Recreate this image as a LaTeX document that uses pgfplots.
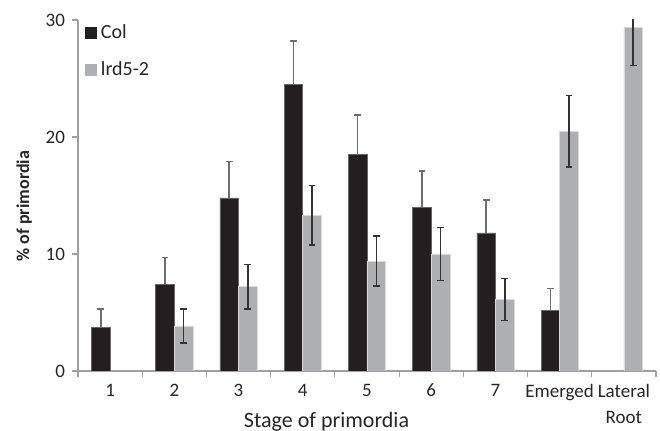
\documentclass[border=0pt]{standalone}
\usepackage{fontspec}
\setmainfont{Carlito}
\usepackage{pgfplots}
\pgfplotsset{compat=1.18}
\definecolor{colbar}{HTML}{231F20}
\definecolor{lrdbar}{HTML}{AEAFB1}
\definecolor{axgray}{HTML}{A0A0A0}
\definecolor{errcol}{HTML}{6D6E70}
\definecolor{errlrd}{HTML}{333333}
\begin{document}
\begin{tikzpicture}
\useasboundingbox (-39pt,-30pt) rectangle (291pt,185.5pt);
\begin{axis}[
  at={(0,0)}, anchor=south west,
  scale only axis, width=289pt, height=175.5pt,
  xmin=-0.5, xmax=8.5, ymin=0, ymax=30,
  axis x line*=bottom, axis y line*=left,
  axis line style={axgray, line width=0.6pt},
  ytick={0,10,20,30},
  xtick={0,...,8},
  xticklabels={1,2,3,4,5,6,7,Emerged,Lateral\\Root},
  minor xtick={-0.5,0.5,...,8.5},
  major x tick style={draw=none},
  minor x tick style={axgray, line width=0.6pt},
  y tick style={axgray, line width=0.6pt},
  tick align=outside,
  major tick length=3pt, minor tick length=3pt,
  /pgf/number format/assume math mode=true,
  ticklabel style={font=\fontsize{9.5}{11}\selectfont, text=black!85},
  xticklabel style={align=center, font=\fontsize{9.5}{13}\selectfont},
  xlabel={Stage of primordia},
  xlabel style={font=\fontsize{11}{13}\selectfont, text=black!85, at={(axis description cs:0.43,0)}, anchor=north, yshift=-17pt},
  ylabel={\textbf{\% of primordia}},
  ylabel style={font=\fontsize{9}{10}\selectfont, text=black!85, at={(ticklabel cs:0.47)}},
  ybar, bar width=0.29,
  clip=true,
  legend style={at={(rel axis cs:0.012,1.0)}, anchor=north west, draw=none, fill=none,
    font=\fontsize{10}{12}\selectfont, text=black!85, row sep=6pt, inner sep=0pt},
  legend cell align=left,
]
\addplot[fill=colbar, draw=black!60, line width=0.3pt, bar shift=-0.145,
  legend image code/.code={\fill[colbar] (0pt,-2.75pt) rectangle (5.5pt,2.75pt);},
  error bars/.cd, y dir=plus, y explicit,
  error bar style={errcol, line width=0.8pt},
  error mark options={rotate=90, mark size=1.7pt, errcol, line width=0.8pt}]
coordinates {
 (0,3.7) +- (0,1.6)
 (1,7.4) +- (0,2.3)
 (2,14.8) +- (0,3.1)
 (3,24.5) +- (0,3.7)
 (4,18.5) +- (0,3.4)
 (5,14.0) +- (0,3.1)
 (6,11.8) +- (0,2.8)
 (7,5.15) +- (0,1.9)
};
\addlegendentry{Col}
\addplot[fill=lrdbar, draw=black!15, line width=0.3pt, bar shift=0.145,
  legend image code/.code={\fill[lrdbar] (0pt,-2.75pt) rectangle (5.5pt,2.75pt);},
  error bars/.cd, y dir=both, y explicit,
  error bar style={errlrd, line width=0.8pt},
  error mark options={rotate=90, mark size=1.7pt, errlrd, line width=0.8pt}]
coordinates {
 (1,3.85) +- (0,1.45)
 (2,7.2) +- (0,1.9)
 (3,13.3) +- (0,2.55)
 (4,9.4) +- (0,2.15)
 (5,10.0) +- (0,2.25)
 (6,6.1) +- (0,1.8)
 (7,20.5) +- (0,3.05)
 (8,29.4) +- (0,3.3)
};
\addlegendentry{lrd5-2}
\end{axis}
\end{tikzpicture}
\end{document}
